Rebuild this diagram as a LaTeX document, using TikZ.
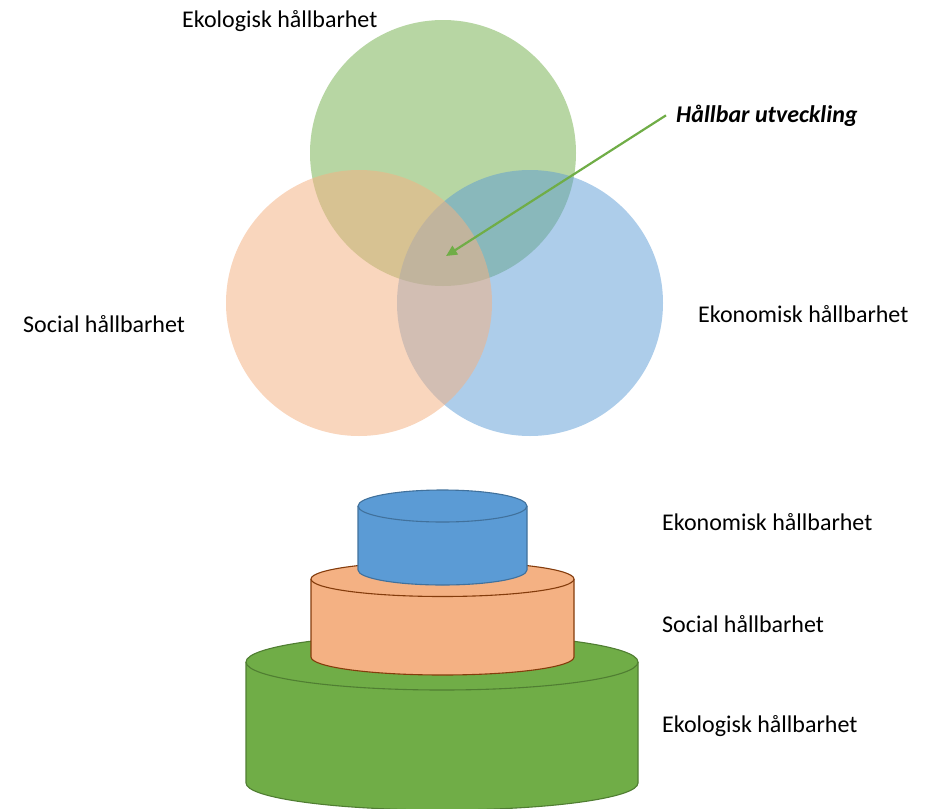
\documentclass[tikz,border=0pt]{standalone}
\usepackage{fontspec}
\setmainfont{Carlito}
\usetikzlibrary{arrows.meta}

\definecolor{ekogreen}{HTML}{70AD47}
\definecolor{socorange}{HTML}{F4B183}
\definecolor{ekoblue}{HTML}{5B9BD5}
\definecolor{cylgreen}{HTML}{70AD47}
\definecolor{cylgreenline}{HTML}{507E32}
\definecolor{cylorange}{HTML}{F4B183}
\definecolor{cylorangeline}{HTML}{843C0C}
\definecolor{cylblue}{HTML}{5B9BD5}
\definecolor{cylblueline}{HTML}{41719C}

\begin{document}
\begin{tikzpicture}[x=1pt,y=-1pt,
    label/.style={anchor=base west,inner sep=0pt,font=\fontsize{24}{29}\selectfont},
    ring/.style={circle,inner sep=0pt,minimum size=266pt}]
  \useasboundingbox (0,0) rectangle (930,809);

  \node[ring,fill=ekogreen,fill opacity=0.5] (eko) at (443,153) {};
  \node[ring,fill=ekoblue,fill opacity=0.5] (ekon) at (530,303) {};
  \node[ring,fill=socorange,fill opacity=0.53] (soc) at (359,303) {};

  \node[label] (ekolbl) at (182,27) {Ekologisk hållbarhet};
  \node[label] (soclbl) at (23,332) {Social hållbarhet};
  \node[label] (ekonlbl) at (698,322) {Ekonomisk hållbarhet};
  \node[label,font=\fontsize{24}{29}\selectfont\bfseries\itshape] (hu) at (676,122) {Hållbar utveckling};
  \coordinate (mitt) at (446,256);
  \draw[ekogreen,line width=2.2pt,-{Triangle[length=11pt,width=10pt]}] ([xshift=-10pt]hu.west) -- (mitt);

  % kakan
  \filldraw[fill=cylgreen,draw=cylgreenline,line width=1.1pt]
    (246,662) -- (246,783) arc[start angle=180,end angle=0,x radius=196,y radius=27] -- (638,662);
  \filldraw[fill=cylgreen,draw=cylgreenline,line width=1.1pt] (442,662) ellipse[x radius=196,y radius=28];
  \filldraw[fill=cylorange,draw=cylorangeline,line width=1.1pt]
    (311,579) -- (311,657) arc[start angle=180,end angle=0,x radius=131.5,y radius=18] -- (574,579);
  \filldraw[fill=cylorange,draw=cylorangeline,line width=1.1pt] (442.5,579) ellipse[x radius=131.5,y radius=17.5];
  \filldraw[fill=cylblue,draw=cylblueline,line width=1.1pt]
    (358,506) -- (358,570) arc[start angle=180,end angle=0,x radius=84.5,y radius=15] -- (527,506);
  \filldraw[fill=cylblue,draw=cylblueline,line width=1.1pt] (442.5,506) ellipse[x radius=84.5,y radius=16];

  \node[label] (ekonniva) at (662,530) {Ekonomisk hållbarhet};
  \node[label] (socniva) at (662,632) {Social hållbarhet};
  \node[label] (ekoniva) at (662,732) {Ekologisk hållbarhet};
\end{tikzpicture}
\end{document}
